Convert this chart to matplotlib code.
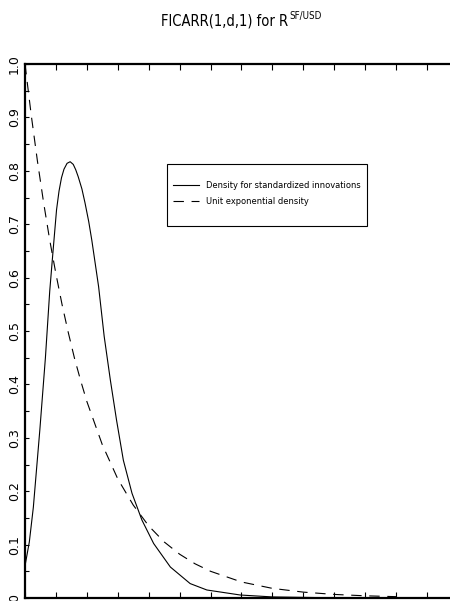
import matplotlib
matplotlib.use("Agg")
import matplotlib.pyplot as plt
from matplotlib.ticker import MultipleLocator, NullFormatter
from matplotlib.patches import Rectangle
from matplotlib import font_manager

plt.rcParams['font.family'] = ['DejaVu Sans']
plt.rcParams['lines.scale_dashes'] = False

# Density of the standardized innovations
x_innov = [0.0, 0.07, 0.135, 0.24, 0.33, 0.40, 0.45, 0.51, 0.55, 0.59, 0.63,
           0.68, 0.73, 0.78, 0.82, 0.86, 0.92, 0.97, 1.03, 1.08, 1.19, 1.28,
           1.38, 1.48, 1.59, 1.73, 1.89, 2.08, 2.35, 2.67, 2.94, 3.48, 4.0,
           5.0, 6.0]
y_innov = [0.06, 0.105, 0.17, 0.315, 0.45, 0.575, 0.645, 0.727, 0.762, 0.787,
           0.803, 0.814, 0.817, 0.812, 0.802, 0.789, 0.766, 0.74, 0.705, 0.67,
           0.583, 0.49, 0.408, 0.333, 0.258, 0.196, 0.146, 0.102, 0.058, 0.027,
           0.015, 0.0056, 0.002, 0.0003, 0.0]

# Unit exponential density
x_expo = [0.0, 0.1, 0.2, 0.3, 0.4, 0.5, 0.6, 0.7, 0.8, 0.9, 1.0, 1.25, 1.5,
          1.75, 2.0, 2.25, 2.5, 2.75, 3.0, 3.5, 4.0, 4.5, 5.0, 5.5, 6.0]
y_expo = [1.0, 0.905, 0.819, 0.741, 0.670, 0.607, 0.549, 0.497, 0.449, 0.407,
          0.368, 0.287, 0.223, 0.174, 0.135, 0.105, 0.082, 0.064, 0.050,
          0.030, 0.018, 0.011, 0.0067, 0.0041, 0.0025]

y_ticks = [0.0, 0.1, 0.2, 0.3, 0.4, 0.5, 0.6, 0.7, 0.8, 0.9, 1.0]
y_labels = ['0', '0.1', '0.2', '0.3', '0.4', '0.5', '0.6', '0.7', '0.8', '0.9', '1.0']

title_main = 'FICARR(1,d,1) for R'
title_sup = 'SF/USD'
legend_labels = ['Density for standardized innovations', 'Unit exponential density']

W, H = 450, 601
fig = plt.figure(figsize=(W / 100, H / 100), dpi=100)
ax = fig.add_axes([25 / W, 3 / H, 433 / W, 534 / H])

line_innov, = ax.plot(x_innov, y_innov, color='black', lw=0.8)
line_expo, = ax.plot(x_expo, y_expo, color='black', lw=0.8, dashes=(7.5, 5.5))

ax.set_xlim(0, 7)
ax.set_ylim(0, 1)

ax.xaxis.set_major_locator(MultipleLocator(0.5))
ax.xaxis.set_major_formatter(NullFormatter())
ax.tick_params(axis='x', which='major', direction='in', length=4, width=0.8,
               top=True, bottom=True)

ax.set_yticks(y_ticks)
ax.set_yticklabels(y_labels, rotation=90, va='center', fontsize=9)
ax.yaxis.set_minor_locator(MultipleLocator(0.05))
ax.tick_params(axis='y', which='both', direction='in', length=3, width=0.8,
               pad=3, left=True, right=False)

for side in ('top', 'bottom', 'left'):
    ax.spines[side].set_linewidth(1.6)
ax.spines['right'].set_visible(False)

narrow = font_manager.FontProperties(family='DejaVu Sans', stretch='condensed',
                                     size=6.7)

# legend entries without frame, box drawn separately
leg = ax.legend([line_innov, line_expo], legend_labels,
                loc='upper left', bbox_to_anchor=(173 / W, 1 - 181 / H),
                bbox_transform=fig.transFigure, frameon=False, prop=narrow,
                handlelength=2.8, handletextpad=0.8, borderpad=0,
                labelspacing=0.75, borderaxespad=0)
fig.add_artist(Rectangle((167 / W, 1 - 226 / H), 200 / W, 62 / H,
                         transform=fig.transFigure, fill=False,
                         edgecolor='black', lw=0.8))

# title: main text plus raised, smaller superscript
title_font = font_manager.FontProperties(family='DejaVu Sans', stretch='condensed',
                                         size=10.5)
sup_font = font_manager.FontProperties(family='DejaVu Sans', stretch='condensed',
                                       size=7)
t_main = fig.text(0, 1 - 25 / H, title_main, ha='left', va='baseline',
                  fontproperties=title_font)
t_sup = fig.text(0, 1 - 19 / H, title_sup, ha='left', va='baseline',
                 fontproperties=sup_font)
fig.canvas.draw()
r = fig.canvas.get_renderer()
w_main = t_main.get_window_extent(r).width
w_sup = t_sup.get_window_extent(r).width
x0 = 241 - (w_main + w_sup) / 2
t_main.set_x(x0 / W)
t_sup.set_x((x0 + w_main + 0.5) / W)

fig.savefig('out.png', dpi=100)
